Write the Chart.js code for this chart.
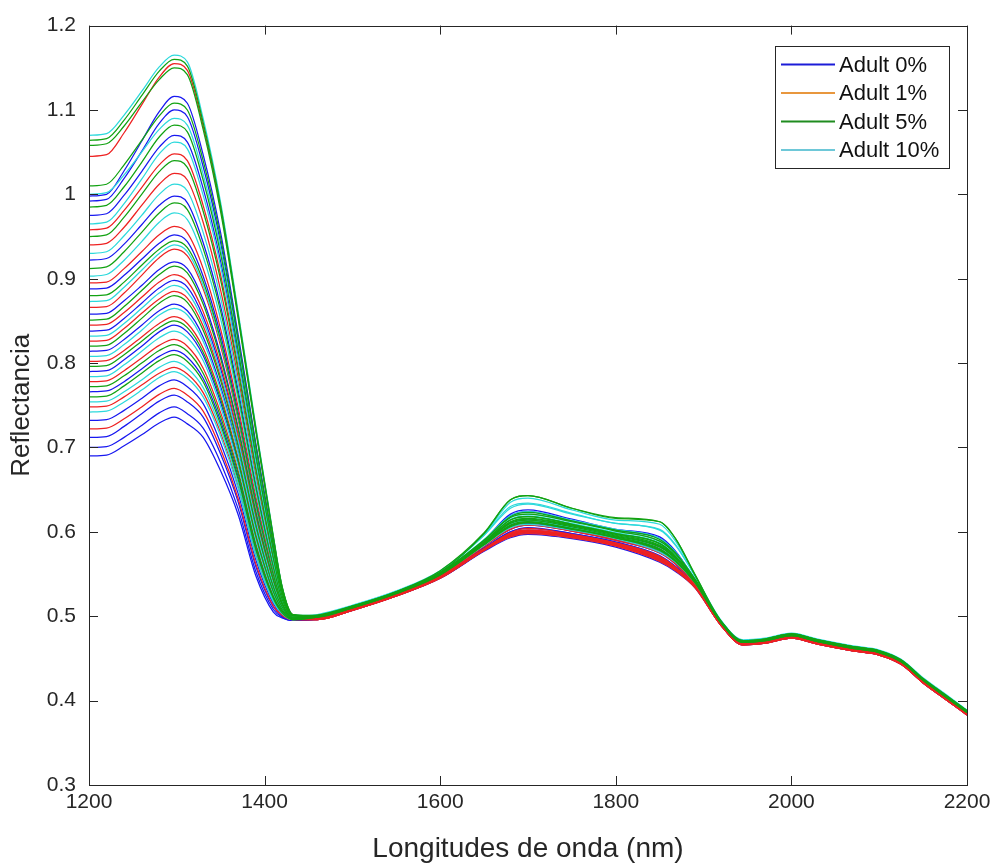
<!DOCTYPE html>
<html>
<head>
<meta charset="utf-8">
<script src="https://cdn.jsdelivr.net/npm/chart.js@4.4.1/dist/chart.umd.min.js"></script>
<style>
  html, body { margin: 0; padding: 0; background: #fff; }
</style>
</head>
<body>
<canvas id="chart" width="998" height="863"></canvas>
<script>
const wavelengths = [1200,1220,1240,1260,1280,1297,1312,1330,1350,1370,1390,1410,1420,1432,1460,1500,1550,1600,1650,1680,1700,1750,1800,1850,1868,1890,1920,1945,1970,2000,2030,2070,2100,2125,2150,2175,2200];

// Adult 0% (blue)
const adult0 = [
  [0.998,1.000,1.028,1.063,1.098,1.116,1.108,1.047,0.954,0.833,0.705,0.585,0.531,0.501,0.497,0.508,0.525,0.549,0.590,0.621,0.626,0.615,0.603,0.594,0.577,0.543,0.490,0.467,0.469,0.475,0.468,0.460,0.455,0.444,0.422,0.403,0.384],
  [0.992,0.994,1.019,1.051,1.084,1.100,1.092,1.033,0.942,0.824,0.698,0.581,0.529,0.501,0.499,0.510,0.527,0.550,0.590,0.619,0.624,0.613,0.602,0.592,0.576,0.544,0.492,0.469,0.471,0.477,0.470,0.462,0.457,0.446,0.424,0.405,0.386],
  [0.975,0.977,0.999,1.027,1.056,1.070,1.062,1.007,0.920,0.807,0.686,0.575,0.527,0.501,0.498,0.509,0.526,0.548,0.585,0.610,0.614,0.606,0.595,0.582,0.568,0.540,0.491,0.468,0.470,0.476,0.469,0.461,0.456,0.445,0.423,0.404,0.385],
  [0.922,0.924,0.941,0.964,0.987,0.998,0.990,0.943,0.867,0.767,0.656,0.560,0.521,0.499,0.497,0.508,0.525,0.547,0.583,0.607,0.611,0.603,0.592,0.579,0.565,0.539,0.490,0.467,0.469,0.475,0.468,0.460,0.455,0.444,0.422,0.403,0.384],
  [0.888,0.889,0.904,0.923,0.942,0.952,0.944,0.903,0.833,0.741,0.637,0.551,0.517,0.499,0.498,0.509,0.526,0.548,0.584,0.606,0.610,0.602,0.592,0.577,0.564,0.539,0.491,0.468,0.470,0.476,0.469,0.461,0.456,0.445,0.423,0.404,0.385],
  [0.858,0.859,0.874,0.892,0.911,0.920,0.912,0.875,0.809,0.723,0.624,0.544,0.514,0.498,0.498,0.509,0.526,0.548,0.583,0.603,0.608,0.601,0.590,0.575,0.562,0.538,0.491,0.468,0.470,0.476,0.469,0.461,0.456,0.445,0.423,0.404,0.385],
  [0.838,0.839,0.853,0.871,0.889,0.898,0.890,0.855,0.793,0.711,0.615,0.539,0.512,0.498,0.497,0.508,0.525,0.547,0.581,0.600,0.605,0.598,0.588,0.572,0.559,0.537,0.490,0.467,0.469,0.475,0.468,0.460,0.455,0.444,0.422,0.403,0.384],
  [0.814,0.815,0.828,0.845,0.862,0.870,0.862,0.831,0.772,0.695,0.604,0.533,0.510,0.497,0.497,0.508,0.525,0.546,0.580,0.598,0.602,0.596,0.586,0.570,0.558,0.536,0.490,0.467,0.469,0.475,0.468,0.460,0.455,0.444,0.422,0.403,0.384],
  [0.790,0.791,0.804,0.820,0.837,0.845,0.837,0.809,0.753,0.681,0.593,0.528,0.508,0.497,0.498,0.509,0.526,0.548,0.581,0.600,0.604,0.598,0.588,0.571,0.559,0.537,0.491,0.468,0.470,0.476,0.469,0.461,0.456,0.445,0.423,0.404,0.385],
  [0.766,0.767,0.778,0.793,0.808,0.815,0.807,0.782,0.731,0.665,0.581,0.522,0.505,0.496,0.496,0.507,0.524,0.545,0.578,0.596,0.600,0.595,0.585,0.568,0.556,0.535,0.489,0.466,0.468,0.474,0.467,0.459,0.454,0.443,0.421,0.402,0.383],
  [0.732,0.733,0.744,0.758,0.773,0.780,0.772,0.752,0.705,0.645,0.567,0.515,0.502,0.496,0.497,0.508,0.525,0.546,0.579,0.596,0.600,0.595,0.585,0.567,0.556,0.536,0.490,0.467,0.469,0.475,0.468,0.460,0.455,0.444,0.422,0.403,0.384],
  [0.712,0.713,0.725,0.740,0.755,0.762,0.754,0.736,0.692,0.635,0.559,0.511,0.500,0.495,0.497,0.508,0.525,0.546,0.578,0.595,0.599,0.594,0.584,0.566,0.555,0.535,0.490,0.467,0.469,0.475,0.468,0.460,0.455,0.444,0.422,0.403,0.384],
  [0.700,0.701,0.712,0.726,0.741,0.748,0.740,0.723,0.682,0.627,0.553,0.508,0.499,0.495,0.496,0.507,0.524,0.545,0.577,0.593,0.597,0.592,0.582,0.564,0.553,0.534,0.489,0.466,0.468,0.474,0.467,0.459,0.454,0.443,0.421,0.402,0.383],
  [0.690,0.691,0.702,0.715,0.729,0.736,0.728,0.712,0.672,0.620,0.548,0.505,0.498,0.495,0.498,0.509,0.526,0.547,0.579,0.595,0.599,0.594,0.584,0.566,0.555,0.536,0.491,0.468,0.470,0.476,0.469,0.461,0.456,0.445,0.423,0.404,0.385]
];

// Adult 1% (red)
const adult1 = [
  [1.045,1.047,1.073,1.106,1.139,1.155,1.147,1.081,0.983,0.855,0.721,0.593,0.534,0.502,0.498,0.509,0.526,0.548,0.584,0.608,0.612,0.604,0.593,0.580,0.566,0.540,0.491,0.468,0.470,0.476,0.469,0.461,0.456,0.445,0.423,0.404,0.385],
  [0.958,0.960,0.981,1.008,1.035,1.048,1.040,0.987,0.904,0.795,0.677,0.571,0.525,0.500,0.497,0.508,0.525,0.547,0.583,0.605,0.609,0.601,0.591,0.576,0.563,0.538,0.490,0.467,0.469,0.475,0.468,0.460,0.455,0.444,0.422,0.403,0.384],
  [0.940,0.942,0.961,0.987,1.012,1.025,1.017,0.967,0.886,0.782,0.667,0.566,0.523,0.500,0.498,0.509,0.526,0.548,0.583,0.603,0.608,0.601,0.590,0.575,0.562,0.538,0.491,0.468,0.470,0.476,0.469,0.461,0.456,0.445,0.423,0.404,0.385],
  [0.895,0.896,0.912,0.932,0.952,0.962,0.954,0.912,0.840,0.747,0.642,0.553,0.518,0.499,0.496,0.507,0.524,0.546,0.580,0.599,0.604,0.597,0.587,0.571,0.558,0.536,0.489,0.466,0.468,0.474,0.467,0.459,0.454,0.443,0.421,0.402,0.383],
  [0.866,0.867,0.883,0.904,0.925,0.935,0.927,0.888,0.820,0.732,0.630,0.547,0.515,0.498,0.497,0.508,0.525,0.546,0.580,0.598,0.602,0.596,0.586,0.570,0.558,0.536,0.490,0.467,0.469,0.475,0.468,0.460,0.455,0.444,0.422,0.403,0.384],
  [0.845,0.846,0.860,0.878,0.896,0.905,0.897,0.861,0.798,0.715,0.618,0.541,0.513,0.498,0.496,0.507,0.524,0.546,0.579,0.598,0.602,0.596,0.586,0.569,0.557,0.535,0.489,0.466,0.468,0.474,0.467,0.459,0.454,0.443,0.421,0.402,0.383],
  [0.826,0.827,0.841,0.859,0.876,0.885,0.877,0.844,0.783,0.704,0.610,0.536,0.511,0.497,0.497,0.508,0.525,0.546,0.579,0.597,0.601,0.596,0.586,0.569,0.557,0.536,0.490,0.467,0.469,0.475,0.468,0.460,0.455,0.444,0.422,0.403,0.384],
  [0.802,0.803,0.815,0.831,0.847,0.855,0.847,0.818,0.761,0.687,0.597,0.530,0.508,0.497,0.496,0.507,0.524,0.545,0.578,0.595,0.599,0.594,0.584,0.566,0.555,0.535,0.489,0.466,0.468,0.474,0.467,0.459,0.454,0.443,0.421,0.402,0.383],
  [0.778,0.779,0.791,0.806,0.821,0.828,0.820,0.794,0.741,0.672,0.586,0.524,0.506,0.497,0.497,0.508,0.525,0.546,0.579,0.596,0.600,0.594,0.584,0.567,0.555,0.536,0.490,0.467,0.469,0.475,0.468,0.460,0.455,0.444,0.422,0.403,0.384],
  [0.748,0.749,0.760,0.774,0.788,0.795,0.787,0.765,0.717,0.654,0.573,0.518,0.503,0.496,0.497,0.508,0.525,0.546,0.579,0.597,0.601,0.595,0.585,0.568,0.556,0.536,0.490,0.467,0.469,0.475,0.468,0.460,0.455,0.444,0.422,0.403,0.384],
  [0.722,0.723,0.734,0.748,0.763,0.770,0.762,0.743,0.698,0.639,0.562,0.512,0.501,0.496,0.496,0.507,0.524,0.545,0.578,0.594,0.598,0.593,0.583,0.565,0.554,0.534,0.489,0.466,0.468,0.474,0.467,0.459,0.454,0.443,0.421,0.402,0.383]
];

// Adult 5% (green)
const adult5 = [
  [1.064,1.066,1.088,1.117,1.146,1.160,1.152,1.085,0.986,0.857,0.723,0.594,0.535,0.502,0.499,0.510,0.527,0.552,0.598,0.638,0.643,0.628,0.616,0.612,0.592,0.549,0.492,0.469,0.471,0.477,0.470,0.462,0.457,0.446,0.424,0.405,0.386],
  [1.058,1.060,1.081,1.109,1.136,1.150,1.142,1.077,0.979,0.852,0.719,0.592,0.534,0.502,0.501,0.512,0.529,0.554,0.599,0.638,0.643,0.628,0.617,0.612,0.592,0.550,0.494,0.471,0.473,0.479,0.472,0.464,0.459,0.448,0.426,0.407,0.388],
  [1.010,1.012,1.035,1.064,1.093,1.108,1.100,1.040,0.948,0.828,0.702,0.583,0.530,0.501,0.500,0.511,0.528,0.551,0.590,0.618,0.623,0.613,0.602,0.591,0.575,0.544,0.493,0.470,0.472,0.478,0.471,0.463,0.458,0.447,0.425,0.406,0.387],
  [0.985,0.987,1.009,1.038,1.068,1.082,1.074,1.017,0.929,0.814,0.691,0.578,0.528,0.501,0.500,0.511,0.528,0.551,0.588,0.614,0.618,0.609,0.598,0.586,0.571,0.543,0.493,0.470,0.472,0.478,0.471,0.463,0.458,0.447,0.425,0.406,0.387],
  [0.950,0.952,0.973,1.000,1.027,1.040,1.032,0.980,0.898,0.790,0.674,0.569,0.524,0.500,0.501,0.512,0.529,0.552,0.590,0.617,0.621,0.612,0.601,0.589,0.574,0.544,0.494,0.471,0.473,0.479,0.472,0.464,0.459,0.448,0.426,0.407,0.388],
  [0.912,0.914,0.932,0.955,0.978,0.990,0.982,0.936,0.861,0.762,0.653,0.558,0.520,0.499,0.500,0.511,0.528,0.551,0.588,0.614,0.618,0.609,0.598,0.586,0.571,0.543,0.493,0.470,0.472,0.478,0.471,0.463,0.458,0.447,0.425,0.406,0.387],
  [0.880,0.881,0.896,0.916,0.935,0.945,0.937,0.897,0.827,0.737,0.634,0.549,0.516,0.498,0.500,0.511,0.528,0.550,0.587,0.612,0.616,0.608,0.597,0.584,0.570,0.542,0.493,0.470,0.472,0.478,0.471,0.463,0.458,0.447,0.425,0.406,0.387],
  [0.851,0.852,0.867,0.886,0.905,0.915,0.907,0.870,0.805,0.721,0.622,0.543,0.514,0.498,0.501,0.512,0.529,0.551,0.587,0.611,0.615,0.607,0.596,0.583,0.569,0.543,0.494,0.471,0.473,0.479,0.472,0.464,0.459,0.448,0.426,0.407,0.388],
  [0.820,0.821,0.835,0.853,0.871,0.880,0.872,0.839,0.779,0.701,0.608,0.535,0.511,0.497,0.500,0.511,0.528,0.550,0.586,0.610,0.614,0.606,0.595,0.582,0.568,0.542,0.493,0.470,0.472,0.478,0.471,0.463,0.458,0.447,0.425,0.406,0.387],
  [0.796,0.797,0.810,0.826,0.842,0.850,0.842,0.813,0.757,0.684,0.595,0.529,0.508,0.497,0.499,0.510,0.527,0.549,0.585,0.608,0.612,0.604,0.594,0.580,0.566,0.540,0.492,0.469,0.471,0.477,0.470,0.462,0.457,0.446,0.424,0.405,0.386],
  [0.772,0.773,0.785,0.800,0.815,0.822,0.814,0.788,0.736,0.669,0.584,0.523,0.506,0.496,0.500,0.511,0.528,0.550,0.585,0.606,0.611,0.603,0.593,0.578,0.565,0.541,0.493,0.470,0.472,0.478,0.471,0.463,0.458,0.447,0.425,0.406,0.387],
  [0.760,0.761,0.773,0.788,0.803,0.810,0.802,0.778,0.727,0.662,0.579,0.521,0.504,0.496,0.499,0.510,0.527,0.549,0.585,0.607,0.611,0.604,0.593,0.579,0.565,0.540,0.492,0.469,0.471,0.477,0.470,0.462,0.457,0.446,0.424,0.405,0.386]
];

// Adult 10% (cyan)
const adult10 = [
  [1.070,1.072,1.094,1.122,1.151,1.165,1.157,1.090,0.990,0.860,0.725,0.595,0.535,0.502,0.500,0.511,0.528,0.553,0.597,0.635,0.640,0.626,0.614,0.609,0.589,0.549,0.493,0.470,0.472,0.478,0.471,0.463,0.458,0.447,0.425,0.406,0.387],
  [1.000,1.002,1.023,1.050,1.077,1.090,1.082,1.024,0.935,0.818,0.694,0.579,0.529,0.501,0.501,0.512,0.529,0.553,0.596,0.630,0.634,0.622,0.610,0.603,0.585,0.548,0.494,0.471,0.473,0.479,0.472,0.464,0.459,0.448,0.426,0.407,0.388],
  [0.965,0.967,0.989,1.018,1.048,1.062,1.054,0.999,0.914,0.802,0.683,0.573,0.526,0.500,0.502,0.513,0.530,0.554,0.596,0.628,0.633,0.621,0.610,0.602,0.584,0.548,0.495,0.472,0.474,0.480,0.473,0.465,0.460,0.449,0.427,0.408,0.389],
  [0.930,0.932,0.951,0.975,1.000,1.012,1.004,0.955,0.877,0.775,0.662,0.563,0.522,0.500,0.501,0.512,0.529,0.552,0.591,0.619,0.624,0.614,0.603,0.592,0.576,0.545,0.494,0.471,0.473,0.479,0.472,0.464,0.459,0.448,0.426,0.407,0.388],
  [0.903,0.905,0.922,0.944,0.967,0.978,0.970,0.926,0.852,0.756,0.648,0.556,0.519,0.499,0.501,0.512,0.529,0.552,0.590,0.617,0.621,0.612,0.601,0.589,0.574,0.544,0.494,0.471,0.473,0.479,0.472,0.464,0.459,0.448,0.426,0.407,0.388],
  [0.873,0.874,0.890,0.910,0.930,0.940,0.932,0.892,0.824,0.735,0.632,0.548,0.516,0.498,0.501,0.512,0.529,0.552,0.589,0.615,0.619,0.610,0.599,0.587,0.572,0.544,0.494,0.471,0.473,0.479,0.472,0.464,0.459,0.448,0.426,0.407,0.388],
  [0.832,0.833,0.847,0.865,0.883,0.892,0.884,0.850,0.788,0.708,0.613,0.538,0.512,0.498,0.500,0.511,0.528,0.550,0.587,0.612,0.616,0.608,0.597,0.584,0.570,0.542,0.493,0.470,0.472,0.478,0.471,0.463,0.458,0.447,0.425,0.406,0.387],
  [0.808,0.809,0.822,0.839,0.857,0.865,0.857,0.826,0.768,0.693,0.602,0.532,0.509,0.497,0.501,0.512,0.529,0.551,0.587,0.611,0.615,0.607,0.596,0.583,0.569,0.543,0.494,0.471,0.473,0.479,0.472,0.464,0.459,0.448,0.426,0.407,0.388],
  [0.784,0.785,0.798,0.814,0.830,0.838,0.830,0.803,0.748,0.678,0.591,0.527,0.507,0.497,0.501,0.512,0.529,0.551,0.587,0.609,0.613,0.605,0.595,0.580,0.567,0.542,0.494,0.471,0.473,0.479,0.472,0.464,0.459,0.448,0.426,0.407,0.388],
  [0.754,0.755,0.766,0.780,0.795,0.802,0.794,0.771,0.722,0.657,0.576,0.519,0.504,0.496,0.501,0.512,0.529,0.551,0.586,0.606,0.611,0.604,0.593,0.578,0.565,0.541,0.494,0.471,0.473,0.479,0.472,0.464,0.459,0.448,0.426,0.407,0.388],
  [0.742,0.743,0.754,0.768,0.783,0.790,0.782,0.760,0.713,0.651,0.571,0.517,0.503,0.496,0.500,0.511,0.528,0.550,0.584,0.605,0.609,0.602,0.592,0.576,0.564,0.540,0.493,0.470,0.472,0.478,0.471,0.463,0.458,0.447,0.425,0.406,0.387]
];

const groupLabels = ['Adult 0%', 'Adult 1%', 'Adult 5%', 'Adult 10%'];
const groupSpectra = [adult0, adult1, adult5, adult10];
const lineColors = ['#1818f0', '#ee2222', '#12a212', '#2cd9dc'];
const legendColors = ['#1c1cd8', '#e8973e', '#1f8c1f', '#6ec8d8'];
const drawOrder = [4, 3, 1, 2];   // green drawn on top, then cyan, red, blue
const xTicks = [1200, 1400, 1600, 1800, 2000, 2200];
const yTicks = [0.3, 0.4, 0.5, 0.6, 0.7, 0.8, 0.9, 1.0, 1.1, 1.2];

const axisColor = '#262626';
const fontFamily = '"Liberation Sans", Arial, Helvetica, sans-serif';

const datasets = [];
groupSpectra.forEach((spectra, g) => {
  spectra.forEach((vals, k) => {
    datasets.push({
      label: groupLabels[g] + ' #' + (k + 1),
      data: wavelengths.map((w, i) => ({ x: w, y: vals[i] })),
      borderColor: lineColors[g],
      borderWidth: 1.25,
      pointRadius: 0,
      fill: false,
      cubicInterpolationMode: 'monotone',
      order: drawOrder[g]
    });
  });
});

// MATLAB-style box with inward ticks
const boxPlugin = {
  id: 'matlabBox',
  afterDatasetsDraw(chart) {
    const { ctx, chartArea: a, scales } = chart;
    ctx.save();
    ctx.strokeStyle = axisColor;
    ctx.lineWidth = 1;
    ctx.strokeRect(Math.round(a.left) + 0.5, Math.round(a.top) + 0.5,
      Math.round(a.right - a.left), Math.round(a.bottom - a.top));
    const len = 9;
    ctx.beginPath();
    xTicks.forEach(v => {
      const px = Math.round(scales.x.getPixelForValue(v)) + 0.5;
      ctx.moveTo(px, a.bottom); ctx.lineTo(px, a.bottom - len);
      ctx.moveTo(px, a.top); ctx.lineTo(px, a.top + len);
    });
    yTicks.forEach(v => {
      const py = Math.round(scales.y.getPixelForValue(v)) + 0.5;
      ctx.moveTo(a.left, py); ctx.lineTo(a.left + len, py);
      ctx.moveTo(a.right, py); ctx.lineTo(a.right - len, py);
    });
    ctx.stroke();
    ctx.restore();
  }
};

// boxed legend in the upper right corner
const legendPlugin = {
  id: 'boxLegend',
  afterDraw(chart) {
    const { ctx, chartArea: a } = chart;
    const w = 174, rowH = 28.5, h = 122;
    const x0 = a.right - 18 - w, y0 = a.top + 20;
    ctx.save();
    ctx.fillStyle = '#fff';
    ctx.fillRect(x0, y0, w, h);
    ctx.strokeStyle = axisColor;
    ctx.lineWidth = 1;
    ctx.strokeRect(Math.round(x0) + 0.5, Math.round(y0) + 0.5, w, h);
    ctx.font = '22px ' + fontFamily;
    ctx.textBaseline = 'middle';
    ctx.textAlign = 'left';
    groupLabels.forEach((lab, i) => {
      const y = y0 + 19 + i * rowH;
      ctx.strokeStyle = legendColors[i];
      ctx.lineWidth = 2;
      ctx.beginPath();
      ctx.moveTo(x0 + 6, y); ctx.lineTo(x0 + 60, y);
      ctx.stroke();
      ctx.fillStyle = '#111';
      ctx.fillText(lab, x0 + 64, y + 1);
    });
    ctx.restore();
  }
};

new Chart(document.getElementById('chart'), {
  type: 'line',
  data: { datasets },
  options: {
    responsive: false,
    animation: false,
    devicePixelRatio: 1,
    layout: { padding: { top: 22, right: 31, left: 0, bottom: 0 } },
    plugins: { legend: { display: false }, tooltip: { enabled: false } },
    scales: {
      x: {
        type: 'linear',
        min: 1200, max: 2200,
        afterBuildTicks: s => { s.ticks = xTicks.map(v => ({ value: v })); },
        afterFit: s => { s.height = 78; },
        grid: { display: false, drawTicks: false },
        border: { display: false },
        ticks: { color: axisColor, padding: 5, font: { family: fontFamily, size: 21 }, callback: v => String(v), maxRotation: 0 },
        title: { display: true, text: 'Longitudes de onda (nm)', color: axisColor, font: { family: fontFamily, size: 28 }, padding: { top: 0, bottom: -3 } }
      },
      y: {
        type: 'linear',
        min: 0.3, max: 1.2,
        afterBuildTicks: s => { s.ticks = yTicks.map(v => ({ value: v })); },
        afterFit: s => { s.width = 89; },
        grid: { display: false, drawTicks: false },
        border: { display: false },
        ticks: { color: axisColor, padding: 13, font: { family: fontFamily, size: 21 }, callback: v => String(Math.round(v * 10) / 10) },
        title: { display: true, text: 'Reflectancia', color: axisColor, font: { family: fontFamily, size: 26 }, padding: { top: 6, bottom: 0 } }
      }
    }
  },
  plugins: [boxPlugin, legendPlugin]
});
</script>
</body>
</html>
